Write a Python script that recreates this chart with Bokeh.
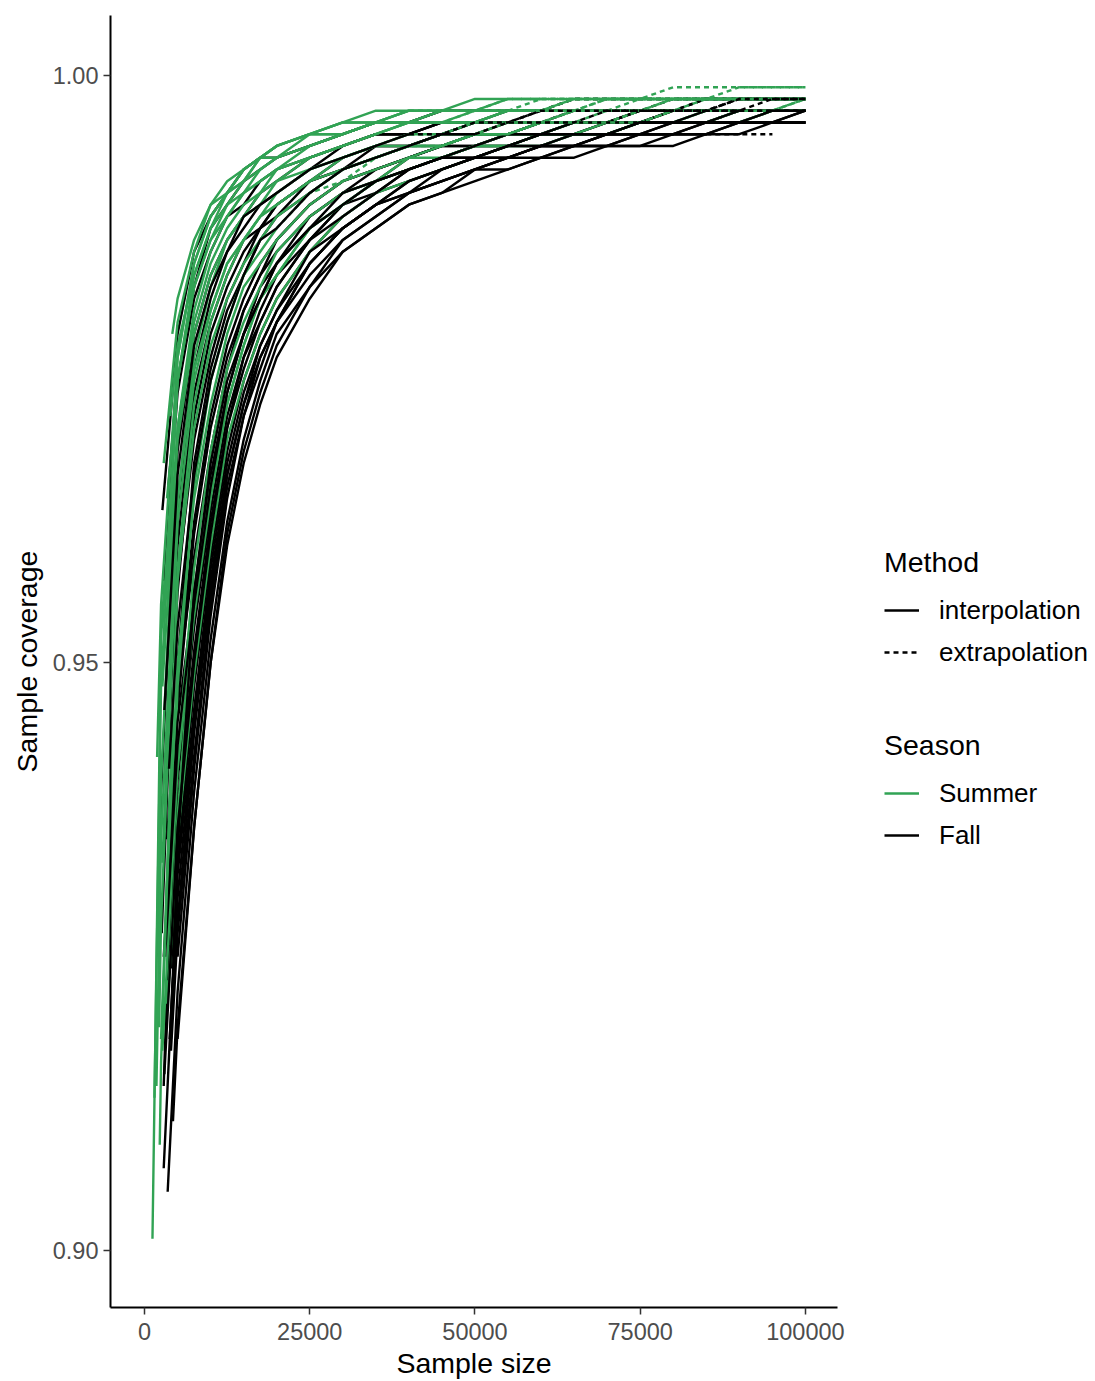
from bokeh.plotting import figure
from bokeh.layouts import row
from bokeh.models import (FixedTicker, NumeralTickFormatter, Legend, LegendItem,
                          Range1d)
from bokeh.embed import file_html
from bokeh.resources import INLINE

# ---------------------------------------------------------------------------
# Sample-size based coverage curves (per-mille coverage at shared knots)
# ---------------------------------------------------------------------------
SIZE_GRID = [2500, 5000, 7500, 10000, 12500, 15000, 17500, 20000, 25000,
             30000, 35000, 40000, 45000, 50000, 55000, 60000, 65000, 70000,
             75000, 80000, 85000, 90000, 95000, 100000]

# Summer assemblages
SUMMER_START_SIZE = [4200, 1200, 2900, 1900, 3900, 2700, 2000, 3300,
                     2700, 2700, 2200, 3300, 3300, 4200, 2700, 3600,
                     3400, 1500, None, 4000, 1800, 2300]
SUMMER_START_COV = [978, 901, 967, 942, 971, 953, 925, 956,
                    948, 933, 919, 921, 930, 934, 917, 922,
                    964, 913, None, 926, 914, 909]
SUMMER_OBSERVED = [60000, 55000, 45000, 40000, 50000, 35000, 65000, 45000,
                   50000, 70000, 60000, 20000, 55000, 75000, 100000, 100000,
                   55000, 45000, 60000, 100000, 65000, 35000]
SUMMER_COVERAGE = [
    [None, 981, 986, 989, 991, 992, 993, 994, 995, 996, 996, 997, 997, 997, 998, 998, 998, 998, 998, 998, 998, 998, 998, 998],
    [952, 976, 984, 988, 990, 992, 993, 994, 995, 996, 997, 997, 997, 998, 998, 998, 998, 998, 998, 999, 999, 999, 999, 999],
    [None, 979, 985, 989, 990, 992, 993, 994, 995, 995, 996, 996, 997, 997, 997, 997, 998, 998, 998, 998, 998, 998, 998, 998],
    [955, 976, 984, 988, 990, 991, 993, 993, 995, 995, 996, 997, 997, 997, 997, 998, 998, 998, 998, 998, 998, 998, 998, 998],
    [None, 977, 983, 987, 989, 991, 992, 993, 994, 995, 996, 996, 996, 997, 997, 997, 997, 998, 998, 998, 998, 998, 998, 998],
    [None, 974, 982, 986, 989, 990, 992, 993, 994, 995, 996, 996, 996, 997, 997, 997, 997, 998, 998, 998, 998, 998, 998, 998],
    [940, 970, 980, 985, 988, 990, 991, 992, 994, 995, 996, 996, 997, 997, 997, 997, 998, 998, 998, 998, 998, 998, 998, 998],
    [None, 970, 979, 984, 987, 989, 990, 992, 993, 994, 995, 996, 996, 996, 997, 997, 997, 997, 997, 998, 998, 998, 998, 998],
    [None, 969, 978, 983, 986, 988, 989, 991, 992, 993, 994, 995, 995, 996, 996, 996, 997, 997, 997, 997, 997, 997, 997, 998],
    [None, 964, 976, 982, 986, 988, 990, 991, 993, 994, 995, 996, 996, 996, 997, 997, 997, 997, 998, 998, 998, 998, 998, 998],
    [928, 962, 974, 980, 984, 986, 988, 989, 991, 993, 994, 994, 995, 995, 996, 996, 996, 997, 997, 997, 997, 997, 997, 998],
    [None, 948, 965, 974, 979, 983, 985, 987, 990, 991, 993, 994, 994, 995, 995, 996, 996, 996, 997, 997, 997, 997, 997, 997],
    [None, 950, 964, 972, 978, 982, 984, 986, 989, 991, 992, 993, 994, 995, 995, 996, 996, 996, 997, 997, 997, 997, 997, 998],
    [None, 942, 958, 968, 975, 979, 982, 985, 988, 990, 991, 993, 993, 994, 995, 995, 996, 996, 996, 996, 997, 997, 997, 997],
    [None, 941, 954, 964, 972, 977, 981, 983, 987, 989, 991, 992, 993, 994, 994, 995, 995, 996, 996, 996, 997, 997, 997, 997],
    [None, 935, 949, 960, 969, 974, 978, 981, 985, 988, 990, 991, 992, 993, 994, 994, 995, 995, 996, 996, 996, 996, 997, 997],
    [None, 974, 982, 986, 988, 990, 991, 992, 993, 994, 995, 996, 996, 996, 997, 997, 997, 997, 997, 998, 998, 998, 998, 998],
    [948, 974, 983, 987, 990, 991, 993, 994, 995, 996, 996, 997, 997, 997, 998, 998, 998, 998, 998, 998, 998, 999, 999, 999],
    [918, 957, 970, 977, 981, 984, 986, 988, 990, 992, 993, 994, 994, 995, 995, 996, 996, 996, 996, 997, 997, 997, 997, 997],
    [None, 937, 955, 965, 972, 977, 981, 983, 987, 989, 991, 992, 993, 994, 994, 995, 995, 995, 996, 996, 996, 997, 997, 997],
    [935, 964, 975, 980, 984, 986, 988, 989, 991, 992, 993, 994, 994, 995, 995, 996, 996, 996, 996, 997, 997, 997, 997, 997],
    [916, 958, 972, 979, 983, 986, 988, 990, 992, 993, 994, 995, 995, 996, 996, 996, 997, 997, 997, 997, 998, 998, 998, 998],
]

# Fall assemblages
FALL_START_SIZE = [2700, 3600, 2900, 2200, 2600, 3400, 4400, 2900, 4200, 3400,
                   3900, 3400, 2900, 4200, 3400, 4000, 2900, 4200, None, 4300,
                   3100, 3000, 3800, 4000, 3700, 3000, 4000, 3500, None]
FALL_START_COV = [963, 965, 957, 932, 927, 943, 950, 914, 951, 929,
                  934, 935, 925, 933, 923, 924, 907, 921, None, 911,
                  925, 915, 918, 917, 941, 946, 918, 905, None]
FALL_OBSERVED = [45000, 60000, 50000, 50000, 55000, 65000, 60000, 100000, 55000, 100000,
                 75000, 90000, 100000, 100000, 80000, 100000, 100000, 85000, 100000, 100000,
                 100000, 90000, 100000, 100000, 50000, 40000, 100000, 100000, 100000]
FALL_COVERAGE = [
    [None, 978, 985, 988, 990, 992, 993, 993, 994, 995, 996, 996, 997, 997, 997, 997, 998, 998, 998, 998, 998, 998, 998, 998],
    [None, 974, 982, 987, 989, 991, 992, 993, 994, 995, 996, 996, 997, 997, 997, 997, 998, 998, 998, 998, 998, 998, 998, 998],
    [None, 973, 981, 985, 988, 989, 991, 992, 993, 994, 995, 995, 996, 996, 996, 997, 997, 997, 997, 997, 998, 998, 998, 998],
    [939, 968, 978, 983, 986, 988, 990, 991, 993, 994, 995, 995, 996, 996, 996, 997, 997, 997, 997, 997, 998, 998, 998, 998],
    [None, 962, 975, 981, 985, 987, 989, 990, 992, 994, 995, 995, 996, 996, 997, 997, 997, 997, 997, 998, 998, 998, 998, 998],
    [None, 960, 973, 979, 983, 986, 987, 989, 991, 992, 993, 994, 995, 995, 996, 996, 996, 996, 997, 997, 997, 997, 997, 997],
    [None, 956, 971, 978, 982, 985, 987, 989, 991, 993, 994, 994, 995, 996, 996, 996, 997, 997, 997, 997, 997, 998, 998, 998],
    [None, 950, 967, 975, 980, 983, 986, 988, 990, 992, 993, 994, 994, 995, 995, 996, 996, 996, 997, 997, 997, 997, 997, 997],
    [None, 957, 969, 976, 981, 984, 987, 988, 991, 992, 994, 994, 995, 996, 996, 996, 997, 997, 997, 997, 997, 998, 998, 998],
    [None, 948, 962, 971, 977, 981, 984, 986, 989, 991, 992, 993, 994, 995, 995, 996, 996, 996, 996, 997, 997, 997, 997, 997],
    [None, 946, 961, 970, 976, 980, 983, 986, 989, 991, 992, 993, 994, 994, 995, 995, 996, 996, 996, 997, 997, 997, 997, 997],
    [None, 948, 959, 968, 975, 980, 983, 985, 988, 990, 992, 993, 994, 995, 995, 996, 996, 996, 997, 997, 997, 997, 997, 997],
    [None, 945, 956, 966, 973, 978, 982, 984, 988, 990, 991, 993, 994, 994, 995, 995, 996, 996, 996, 997, 997, 997, 997, 997],
    [None, 940, 953, 963, 971, 976, 980, 983, 986, 989, 991, 992, 993, 994, 994, 995, 995, 996, 996, 996, 996, 997, 997, 997],
    [None, 938, 951, 962, 970, 976, 979, 982, 986, 989, 990, 992, 993, 994, 994, 995, 995, 996, 996, 996, 996, 997, 997, 997],
    [None, 933, 948, 959, 968, 974, 978, 981, 985, 988, 990, 991, 992, 993, 994, 994, 995, 995, 996, 996, 996, 996, 997, 997],
    [None, 932, 946, 958, 967, 973, 977, 980, 985, 987, 989, 991, 992, 993, 994, 994, 995, 995, 995, 996, 996, 996, 996, 997],
    [None, 928, 944, 956, 966, 972, 976, 979, 984, 987, 989, 990, 992, 993, 993, 994, 994, 994, 994, 994, 995, 995, 995, None],
    [None, 925, 941, 954, 964, 971, 975, 979, 983, 986, 988, 990, 991, 992, 993, 994, 994, 995, 995, 995, 996, 996, 996, 996],
    [None, 919, 936, 950, 961, 968, 973, 977, 982, 985, 987, 989, 990, 992, 992, 993, 994, 994, 995, 995, 995, 996, 996, 996],
    [None, 943, 955, 965, 973, 978, 981, 984, 987, 990, 991, 992, 993, 994, 995, 995, 996, 996, 996, 996, 997, 997, 997, 997],
    [None, 936, 950, 961, 970, 975, 979, 982, 986, 988, 990, 992, 993, 993, 994, 995, 995, 995, 996, 996, 996, 997, 997, 997],
    [None, 930, 945, 957, 966, 972, 977, 980, 984, 987, 989, 991, 992, 993, 993, 994, 994, 995, 995, 996, 996, 996, 996, 997],
    [None, 927, 942, 955, 965, 971, 976, 979, 984, 987, 989, 990, 991, 992, 993, 994, 994, 995, 995, 995, 996, 996, 996, 996],
    [None, 953, 966, 974, 979, 983, 986, 987, 990, 992, 993, 994, 995, 995, 996, 996, 996, 997, 997, 997, 997, 997, 998, 998],
    [None, 966, 977, 982, 985, 988, 989, 990, 992, 993, 994, 995, 995, 996, 996, 997, 997, 997, 997, 997, 997, 998, 998, 998],
    [None, 934, 956, 967, 974, 978, 981, 984, 987, 989, 991, 992, 993, 993, 994, 995, 995, 995, 996, 996, 996, 996, 997, 997],
    [None, 922, 939, 952, 962, 969, 974, 978, 982, 986, 988, 990, 991, 992, 993, 993, 994, 994, 995, 995, 995, 996, 996, 996],
    [None, 918, 936, 950, 960, 967, 972, 976, 981, 985, 987, 989, 990, 991, 992, 993, 993, 994, 994, 995, 995, 995, 996, 996],
]

SEASONS = ["Summer", "Fall"]
METHODS = ["interpolation", "extrapolation"]
X_TICKS = [0, 25000, 50000, 75000, 100000]
Y_TICKS = [0.90, 0.95, 1.00]

GREEN = "#31a354"
FONT = "Liberation Sans"
LINE_W = 2.4
DASH = "5 4"
PAGE_H = 1381
PLOT_W = 860          # main panel width (frame ends 23 px before its edge)
LEGEND_W = 1095 - PLOT_W


def curve_points(start_size, start_cov, coverage):
    xs, ys = [], []
    if start_size is not None:
        xs.append(start_size)
        ys.append(start_cov / 1000.0)
    for size, cov in zip(SIZE_GRID, coverage):
        if cov is None or (start_size is not None and size <= start_size):
            continue
        xs.append(size)
        ys.append(cov / 1000.0)
    return xs, ys


p = figure(width=PLOT_W, height=PAGE_H, output_backend="svg", toolbar_location=None,
           x_range=Range1d(-5150, 104850), y_range=Range1d(0.89515, 1.0051),
           min_border_left=110, min_border_right=PLOT_W - 837, min_border_top=15,
           min_border_bottom=73)
p.outline_line_color = None
p.grid.grid_line_color = None
p.background_fill_color = "white"
p.border_fill_color = "white"


def draw_curve(xs, ys, n_obs, color):
    solid = [(x, y) for x, y in zip(xs, ys) if x <= n_obs]
    dashed = [(x, y) for x, y in zip(xs, ys) if x >= n_obs]
    if len(solid) > 1:
        p.line([a for a, _ in solid], [b for _, b in solid], line_color=color,
               line_width=LINE_W)
    if len(dashed) > 1:
        p.line([a for a, _ in dashed], [b for _, b in dashed], line_color=color,
               line_width=LINE_W, line_dash=DASH)


n_curves = max(len(SUMMER_COVERAGE), len(FALL_COVERAGE))
for i in range(n_curves):
    if i < len(FALL_COVERAGE):
        xs, ys = curve_points(FALL_START_SIZE[i], FALL_START_COV[i], FALL_COVERAGE[i])
        draw_curve(xs, ys, FALL_OBSERVED[i], "black")
    if i < len(SUMMER_COVERAGE):
        xs, ys = curve_points(SUMMER_START_SIZE[i], SUMMER_START_COV[i], SUMMER_COVERAGE[i])
        draw_curve(xs, ys, SUMMER_OBSERVED[i], GREEN)

# axes
for ax in (p.xaxis, p.yaxis):
    ax.axis_line_color = "black"
    ax.axis_line_width = 2
    ax.major_tick_line_color = "#333333"
    ax.major_tick_line_width = 1.5
    ax.major_tick_out = 7
    ax.major_tick_in = 0
    ax.minor_tick_line_color = None
    ax.major_label_text_font = FONT
    ax.major_label_text_font_size = "23.5px"
    ax.major_label_text_color = "#4d4d4d"
    ax.axis_label_text_font = FONT
    ax.axis_label_text_font_size = "28.5px"
    ax.axis_label_text_font_style = "normal"
    ax.axis_label_text_color = "black"

p.xaxis.ticker = FixedTicker(ticks=X_TICKS)
p.xaxis.formatter = NumeralTickFormatter(format="0")
p.xaxis.axis_label = "Sample size"
p.xaxis.major_label_standoff = 8
p.xaxis.axis_label_standoff = 4

p.yaxis.ticker = FixedTicker(ticks=Y_TICKS)
p.yaxis.formatter = NumeralTickFormatter(format="0.00")
p.yaxis.axis_label = "Sample coverage"
p.yaxis.major_label_standoff = 5
p.yaxis.axis_label_standoff = 7

# legend panel to the right of the plot
lg = figure(width=LEGEND_W, height=PAGE_H, output_backend="svg", toolbar_location=None,
            x_axis_location=None, y_axis_location=None, min_border=0,
            x_range=Range1d(0, 1), y_range=Range1d(0, 1))
lg.outline_line_color = None
lg.grid.grid_line_color = None
lg.background_fill_color = "white"
lg.border_fill_color = "white"

# key renderers sit outside the visible range; only their legend swatches show
key_interp = lg.line([-5, -4], [-5, -5], line_color="black", line_width=LINE_W)
key_extrap = lg.line([-5, -4], [-5, -5], line_color="black", line_width=LINE_W, line_dash=DASH)
key_summer = lg.line([-5, -4], [-5, -5], line_color=GREEN, line_width=LINE_W)
key_fall = lg.line([-5, -4], [-5, -5], line_color="black", line_width=LINE_W)


def make_legend(title, items, loc):
    return Legend(items=items, title=title, location=loc, orientation="vertical",
                  title_text_font=FONT, title_text_font_size="28.5px",
                  title_text_font_style="normal", title_text_color="black",
                  title_standoff=10,
                  label_text_font=FONT, label_text_font_size="26px",
                  label_text_color="black",
                  glyph_width=35, glyph_height=42, label_height=42,
                  label_standoff=20, spacing=0, padding=0, margin=0,
                  border_line_color=None, background_fill_alpha=0)


LEGEND_X = 884 - PLOT_W
leg_method = make_legend("Method", [LegendItem(label=METHODS[0], renderers=[key_interp]),
                                    LegendItem(label=METHODS[1], renderers=[key_extrap])],
                         (LEGEND_X, 634))
leg_season = make_legend("Season", [LegendItem(label=SEASONS[0], renderers=[key_summer]),
                                    LegendItem(label=SEASONS[1], renderers=[key_fall])],
                         (LEGEND_X, 451))
lg.add_layout(leg_method)
lg.add_layout(leg_season)

layout = row(p, lg, spacing=0)
open("out.html", "w").write(file_html(layout, INLINE))
